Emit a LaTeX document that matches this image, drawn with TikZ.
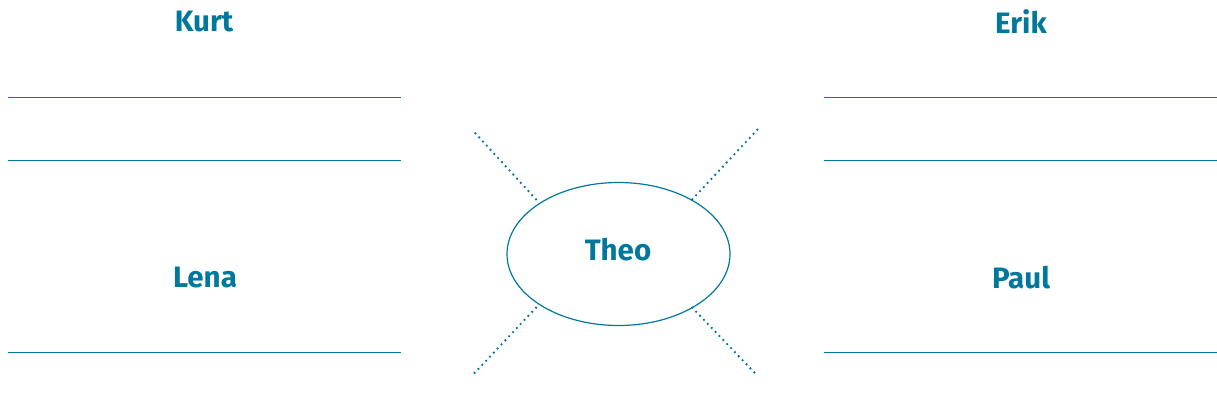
\documentclass[tikz,border=0pt]{standalone}
\usepackage{fontspec}
\setmainfont{Fira Sans}
\usetikzlibrary{shapes.geometric}
\definecolor{teal}{HTML}{00789C}
\begin{document}
\begin{tikzpicture}[x=1pt,y=-1pt,
  lbl/.style={text=teal,font=\fontsize{29.5}{34}\selectfont\bfseries,inner sep=0pt,anchor=center},
  rule/.style={draw=teal,line width=1pt},
  ray/.style={draw=teal,line width=2.6pt,line cap=round,dash pattern=on 0pt off 5.6pt}]
\useasboundingbox (0,0) rectangle (1217,415);
\node[ellipse,draw=teal,line width=1.2pt,minimum width=223pt,minimum height=143pt,inner sep=0pt] (theo) at (618.5,254) {};
\node[lbl] (theotxt) at (618,250) {Theo};
\node[lbl] (kurt) at (204,22) {Kurt};
\node[lbl] (erik) at (1021,22) {Erik};
\node[lbl] (lena) at (205,278) {Lena};
\node[lbl] (paul) at (1021,278) {Paul};
% rules
\coordinate (l1a) at (8,97);   \coordinate (l1b) at (401,97);
\coordinate (l2a) at (8,160);  \coordinate (l2b) at (401,160);
\coordinate (l3a) at (8,352);  \coordinate (l3b) at (401,352);
\coordinate (r1a) at (824,97);  \coordinate (r1b) at (1217,97);
\coordinate (r2a) at (824,160); \coordinate (r2b) at (1217,160);
\coordinate (r3a) at (824,352); \coordinate (r3b) at (1217,352);
\draw[rule] (l1a) -- (l1b);
\draw[rule] (l2a) -- (l2b);
\draw[rule] (l3a) -- (l3b);
\draw[rule] (r1a) -- (r1b);
\draw[rule] (r2a) -- (r2b);
\draw[rule] (r3a) -- (r3b);
% rays
\coordinate (tl) at (471.7,129.3);
\coordinate (tr) at (757.7,129.3);
\coordinate (bl) at (471.7,376);
\coordinate (br) at (757.7,376);
\coordinate (etl) at (536,199.3);
\coordinate (etr) at (692.3,199.3);
\coordinate (ebl) at (536,307.7);
\coordinate (ebr) at (692.3,307.7);
\draw[ray] (etl) -- (tl);
\draw[ray] (etr) -- (tr);
\draw[ray] (ebl) -- (bl);
\draw[ray] (ebr) -- (br);
\end{tikzpicture}
\end{document}
